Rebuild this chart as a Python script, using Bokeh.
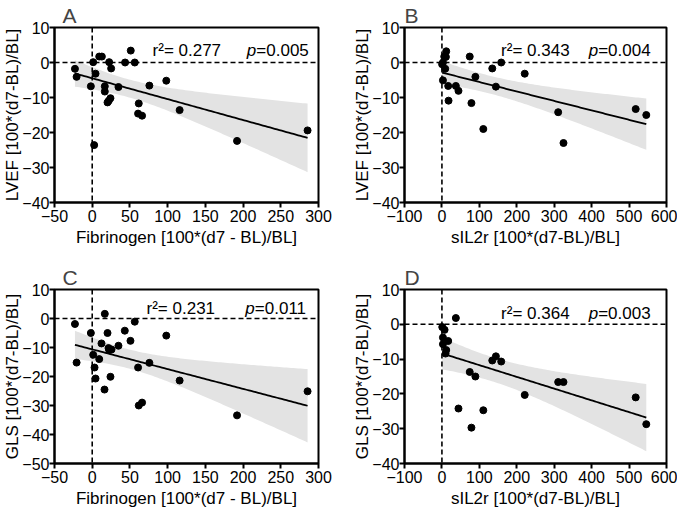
import numpy as np
from bokeh.plotting import figure
from bokeh.layouts import column, row
from bokeh.models import Range1d, FixedTicker, Span
from bokeh.core.properties import value
from bokeh.embed import file_html
from bokeh.resources import INLINE

# ---------------- data ----------------
fib_A = [-22.9, -20.7, -1.8, 1.3, 2.6, 4.4, 9.3, 12.8, 16.7, 16.7, 20.3, 22.0, 24.2,
         22.5, 25.1, 34.8, 43.6, 51.1, 56.4, 61.7, 60.8, 66.1, 75.8, 98.2, 115.9, 192.0, 285.5]
lvef_A = [-1.8, -4.1, -6.8, 0.1, -23.6, -3.2, 1.7, 1.7, -6.8, -8.3, -11.4, -10.9, -10.2,
          0.1, -1.7, -7.0, 0.0, 3.4, 0.0, -11.7, -14.6, -15.2, -6.6, -5.2, -13.6, -22.4, -19.4]

sil_B = [0.5, 2.7, 2.7, 6.2, 8.8, 11.5, 10.6, 16.8, 17.7, 37.2, 44.2, 74.3, 78.8, 89.4,
         110.6, 134.5, 144.2, 158.4, 221.2, 310.6, 324.8, 517.7, 546.0]
lvef_B = [-0.5, 0.0, -5.1, 1.7, -1.8, 3.2, 1.6, -6.7, -10.9, -6.7, -8.1, 1.7, -11.6, -4.1,
          -19.0, -1.7, -6.9, 0.0, -3.2, -14.2, -23.0, -13.3, -15.0]

fib_C = [-22.9, -20.7, -1.8, 1.3, 3.1, 4.4, 9.3, 12.3, 16.7, 16.3, 20.3, 21.6, 22.5, 25.6,
         24.2, 34.8, 43.2, 50.7, 56.4, 60.8, 61.7, 66.1, 75.8, 98.2, 115.9, 192.0, 285.5]
gls_C = [-1.9, -15.2, -5.0, -12.5, -16.9, -20.7, -14.0, -8.6, 1.6, -24.5, -5.0, -10.2, -10.9,
         -10.7, -20.1, -9.4, -4.2, -7.7, -1.1, -16.9, -30.0, -29.0, -15.3, -5.9, -21.4, -33.4, -25.1]

sil_D = [0.9, 7.1, 2.7, 2.7, 16.8, 11.5, 9.7, 37.2, 44.2, 74.3, 78.8, 89.4, 110.6, 134.5,
         144.2, 158.4, 221.2, 310.6, 324.8, 517.7, 546.0]
gls_D = [-0.8, -1.6, -3.8, -5.7, -4.8, -7.4, -8.4, 1.8, -24.2, -13.7, -29.7, -15.0, -24.7,
         -10.4, -9.2, -10.7, -20.3, -16.6, -16.6, -21.0, -28.7]

panel_letters = ["A", "B", "C", "D"]
x_titles = ["Fibrinogen [100*(d7 - BL)/BL]", "sIL2r [100*(d7-BL)/BL]",
            "Fibrinogen [100*(d7 - BL)/BL]", "sIL2r [100*(d7-BL)/BL]"]
y_titles = ["LVEF [100*(d7-BL)/BL]", "LVEF [100*(d7-BL)/BL]",
            "GLS [100*(d7-BL)/BL]", "GLS [100*(d7-BL)/BL]"]
r2_texts = ["r\u00b2= 0.277", "r\u00b2= 0.343", "r\u00b2= 0.231", "r\u00b2= 0.364"]
p_texts = ["=0.005", "=0.004", "=0.011", "=0.003"]
fib_ticks = [-50, 0, 50, 100, 150, 200, 250, 300]
sil_ticks = [-100, 0, 100, 200, 300, 400, 500, 600]
lvef_ticks = [10, 0, -10, -20, -30, -40]
gls_ticks_C = [10, 0, -10, -20, -30, -40, -50]
gls_ticks_D = [10, 0, -10, -20, -30, -40]

# two-sided 95 % t critical values by degrees of freedom
T95 = {18: 2.101, 19: 2.093, 20: 2.086, 21: 2.080, 22: 2.074, 23: 2.069, 24: 2.064, 25: 2.060}

FONT = "Liberation Sans"


def fit_band(x, y):
    x = np.asarray(x, float)
    y = np.asarray(y, float)
    n = len(x)
    b, a = np.polyfit(x, y, 1)
    res = y - (a + b * x)
    s = np.sqrt(np.sum(res ** 2) / (n - 2))
    xm = x.mean()
    sxx = np.sum((x - xm) ** 2)
    xs = np.linspace(x.min(), x.max(), 100)
    yh = a + b * xs
    se = s * np.sqrt(1.0 / n + (xs - xm) ** 2 / sxx)
    t = T95.get(n - 2, 2.06)
    return xs, yh, yh - t * se, yh + t * se


def panel(x, y, letter, xt, yt, r2, pt, xr, yr, xticks, yticks, txt_pos,
          fw, fh, bl, br, bt, bb, title_off):
    p = figure(frame_width=fw, frame_height=fh, output_backend="svg", toolbar_location=None,
               x_range=Range1d(*xr), y_range=Range1d(*yr),
               min_border_left=bl, min_border_right=br, min_border_top=bt, min_border_bottom=bb)
    p.title.text = letter
    p.title.text_font = FONT
    p.title.text_font_size = "21px"
    p.title.text_font_style = "normal"
    p.title.offset = title_off
    p.title.standoff = 2
    p.grid.visible = False
    p.outline_line_color = "black"
    p.outline_line_width = 2
    p.outline_line_alpha = 1
    p.background_fill_color = "white"
    p.border_fill_color = "white"

    for ax, ticks, lab in ((p.xaxis[0], xticks, xt), (p.yaxis[0], yticks, yt)):
        ax.ticker = FixedTicker(ticks=ticks)
        ax.axis_label = lab
        ax.axis_label_text_font = FONT
        ax.axis_label_text_font_size = "17px"
        ax.axis_label_text_font_style = "normal"
        ax.axis_label_text_color = "black"
        ax.major_label_text_font = FONT
        ax.major_label_text_font_size = "16px"
        ax.major_label_text_color = "black"
        ax.axis_line_width = 2
        ax.axis_line_color = "black"
        ax.major_tick_line_width = 2
        ax.major_tick_line_color = "black"
        ax.major_tick_out = 5
        ax.major_tick_in = 0
        ax.minor_tick_line_color = None
    p.xaxis[0].major_label_standoff = 2
    p.xaxis[0].axis_label_standoff = 3
    p.yaxis[0].major_label_standoff = 0
    p.yaxis[0].axis_label_standoff = -3

    xs, yh, lo, hi = fit_band(x, y)
    p.varea(x=xs, y1=lo, y2=hi, fill_color="#e3e3e3", fill_alpha=1)
    p.add_layout(Span(location=0, dimension="width", line_color="black",
                      line_dash="5 3", line_width=1.6))
    p.add_layout(Span(location=0, dimension="height", line_color="black",
                      line_dash="5 3", line_width=1.6))
    p.line(xs, yh, line_color="black", line_width=1.8)
    p.scatter(x, y, size=7, color="black")

    rx, px_, ty = txt_pos
    p.text(x=[rx], y=[ty], text=[r2], text_font=value(FONT), text_font_size="17px",
           text_baseline="alphabetic", text_align="left", text_color="black")
    p.text(x=[px_], y=[ty], text=["p"], text_font=value(FONT), text_font_size="17px",
           text_font_style="italic", text_baseline="alphabetic", text_align="left",
           text_color="black")
    p.text(x=[px_], y=[ty], text=[pt], text_font=value(FONT), text_font_size="17px",
           x_offset=9.5, text_baseline="alphabetic", text_align="left", text_color="black")
    return p


pA = panel(fib_A, lvef_A, panel_letters[0], x_titles[0], y_titles[0], r2_texts[0], p_texts[0],
           (-50, 300), (-40, 10), fib_ticks, lvef_ticks, (80, 205, 3.3),
           264, 175, 46, 27, 22, 46, 8)
pB = panel(sil_B, lvef_B, panel_letters[1], x_titles[1], y_titles[1], r2_texts[1], p_texts[1],
           (-100, 600), (-40, 10), sil_ticks, lvef_ticks, (158, 392, 3.3),
           262, 175, 59, 11, 22, 46, 0)
pC = panel(fib_C, gls_C, panel_letters[2], x_titles[2], y_titles[2], r2_texts[2], p_texts[2],
           (-50, 300), (-50, 10), fib_ticks, gls_ticks_C, (72, 203, 3.5),
           264, 174, 46, 27, 40, 46, 8)
pD = panel(sil_D, gls_D, panel_letters[3], x_titles[3], y_titles[3], r2_texts[3], p_texts[3],
           (-100, 600), (-40, 10), sil_ticks, gls_ticks_D, (158, 392, 3.1),
           262, 174, 59, 11, 40, 46, 0)

layout = column(row(pA, pB), row(pC, pD))
open("out.html", "w").write(file_html(layout, INLINE))
